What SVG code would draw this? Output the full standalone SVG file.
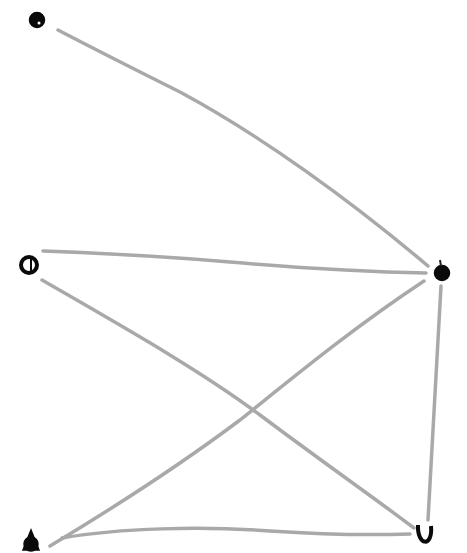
<svg xmlns="http://www.w3.org/2000/svg" width="467" height="553" viewBox="0 0 467 553">
<style>
.e{fill:none;stroke:#a9a9a9;stroke-width:3.5;stroke-linecap:round;stroke-linejoin:round}
.n{fill:#0a0a0a;stroke:#0a0a0a;stroke-width:1.5}
.h{fill:#ffffff}
</style>
<rect width="467" height="553" fill="#ffffff"/>
<g id="connectors">
<path class="e" d="M58,30 C100,52 140,72 180,92 C260,135 350,200 428,266"/>
<path class="e" d="M43,251 C100,253 160,256 230,262 C300,268 370,272 426,273"/>
<path class="e" d="M42,280 C120,325 200,370 260,415 C320,460 370,495 414,528"/>
<path class="e" d="M424,281 C350,330 290,380 240,420 C180,465 110,510 50,546"/>
<path class="e" d="M441,286 C437,360 433,440 428,520"/>
<path class="e" d="M62,538 C120,528 200,526 270,531 C330,535 380,535 410,534"/>
</g>
<g id="node-top"><circle class="n" cx="37" cy="20" r="7.5"/><circle class="h" cx="39" cy="23" r="1.5"/></g>
<g id="node-left"><circle cx="29" cy="265" r="8" fill="none" stroke="#0a0a0a" stroke-width="4"/><path d="M31,258 L31,272" stroke="#0a0a0a" stroke-width="2"/></g>
<g id="node-right"><circle class="n" cx="442" cy="273" r="7.5"/><path d="M440,260 L441,266" stroke="#222" stroke-width="2"/></g>
<g id="node-bottom-left"><path class="n" d="M23,550 L31,530 L39,550 Z"/><circle class="n" cx="31" cy="544" r="7"/></g>
<g id="node-bottom-right"><path d="M418,525 C417,546 433,548 431,526" fill="none" stroke="#0a0a0a" stroke-width="4"/></g>
</svg>
